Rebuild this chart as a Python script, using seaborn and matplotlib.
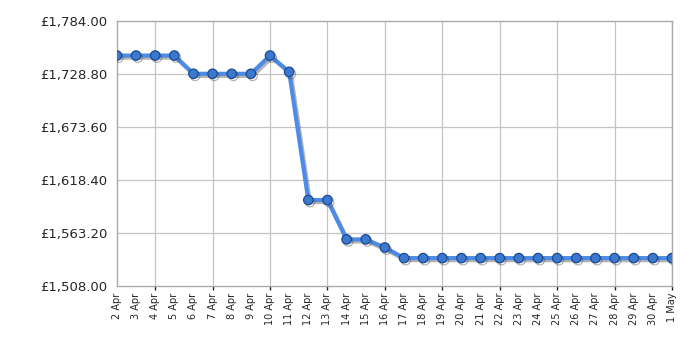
import pandas as pd
import numpy as np
import matplotlib
matplotlib.use('Agg')
import matplotlib.pyplot as plt
import matplotlib.patheffects as pe
import seaborn as sns

# Data
dates = ['2 Apr', '3 Apr', '4 Apr', '5 Apr', '6 Apr', '7 Apr', '8 Apr', '9 Apr', '10 Apr',
         '11 Apr', '12 Apr', '13 Apr', '14 Apr', '15 Apr', '16 Apr', '17 Apr', '18 Apr',
         '19 Apr', '20 Apr', '21 Apr', '22 Apr', '23 Apr', '24 Apr', '25 Apr', '26 Apr',
         '27 Apr', '28 Apr', '29 Apr', '30 Apr', '1 May']
prices = [1748, 1748, 1748, 1748, 1729, 1729, 1729, 1729, 1748,
          1731, 1597.5, 1597.5, 1556.5, 1556.5, 1548, 1537, 1537,
          1537, 1537, 1537, 1537, 1537, 1537, 1537, 1537,
          1537, 1537, 1537, 1537, 1537]
yticks = [1508.0, 1563.2, 1618.4, 1673.6, 1728.8, 1784.0]

df = pd.DataFrame({'day': np.arange(len(dates)), 'price': prices})

sns.set_style('white')
fig, ax = plt.subplots(figsize=(7, 3.5), dpi=100)
fig.subplots_adjust(left=0.167, right=0.96, top=0.94, bottom=0.183)

sns.lineplot(data=df, x='day', y='price', ax=ax, color='#4d8ce6', linewidth=3.0,
             marker='o', markersize=6.8, markerfacecolor='#3b78d0',
             markeredgecolor='#1d4a8c', markeredgewidth=0.9, zorder=3,
             path_effects=[pe.SimpleLineShadow(offset=(1.2, -1.5), shadow_color='#444444', alpha=0.4),
                           pe.Normal()])

ax.set_xlim(0, len(dates) - 1)
ax.set_ylim(yticks[0], yticks[-1])
ax.set_yticks(yticks)
ax.set_yticklabels(['£{:,.2f}'.format(v) for v in yticks], fontsize=9.5)

ax.set_xticks(np.arange(len(dates)))
ax.set_xticklabels(dates, rotation=90, fontsize=7)
ax.tick_params(axis='x', length=0, pad=5)
ax.tick_params(axis='y', length=5, width=1, color='#222222', pad=2)

# grid every 3 days, from 4 Apr
for d in range(2, len(dates), 3):
    ax.axvline(d, color='#c4c4c4', linewidth=0.9, zorder=0)
for v in yticks[1:-1]:
    ax.axhline(v, color='#c4c4c4', linewidth=0.9, zorder=0)
ax.vlines(range(2, len(dates), 3), yticks[0] - 4, yticks[0], color='#222222',
          linewidth=1, clip_on=False)

for s in ax.spines.values():
    s.set_color('#aaaaaa')
    s.set_linewidth(1)
ax.set_xlabel('')
ax.set_ylabel('')

plt.savefig('out.png')
